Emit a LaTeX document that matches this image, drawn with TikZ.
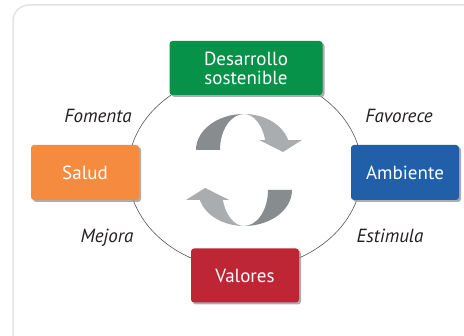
\documentclass[tikz,border=0pt]{standalone}
\usepackage{fontspec}
\setmainfont{PT Sans}
\usetikzlibrary{shadows}
\definecolor{cgreen}{HTML}{07924A}
\definecolor{corange}{HTML}{F58B3E}
\definecolor{cblue}{HTML}{2160A8}
\definecolor{cred}{HTML}{BE2636}
\definecolor{cdark}{HTML}{878C8F}
\definecolor{clight}{HTML}{A9ADAF}
\definecolor{cline}{HTML}{555555}
\definecolor{cframe}{HTML}{E3E3E3}
\definecolor{ctext}{HTML}{231F20}
\tikzset{
  box/.style={rectangle, rounded corners=3pt, text=white, align=center,
    font=\fontsize{19}{19}\selectfont, inner sep=0pt,
    drop shadow={shadow xshift=2pt, shadow yshift=-2pt, fill=black!40, opacity=0.8}},
  lbl/.style={text=ctext, font=\fontsize{19}{19}\selectfont\itshape, inner sep=0pt},
}
\begin{document}
\begin{tikzpicture}[x=1pt,y=-1pt]
\useasboundingbox (0,0) rectangle (464,336);
\fill[white] (0,0) rectangle (464,336);
\begin{scope}
\clip (0,0) rectangle (464,336);
\draw[cframe, line width=1.5pt, rounded corners=16pt] (13,5) rectangle (490,360);
\end{scope}
% ring
\coordinate (c) at (245,171);
\draw[cline, line width=0.6pt] (c) ellipse [x radius=117pt, y radius=98pt];
% boxes
\node[box, fill=cgreen, minimum width=153pt, minimum height=54pt] (des) at (246,68) {Desarrollo\\sostenible};
\node[box, fill=corange, minimum width=108pt, minimum height=55pt] (sal) at (85,172.5) {Salud};
\node[box, fill=cblue, minimum width=108pt, minimum height=55pt] (amb) at (405,172.5) {Ambiente};
\node[box, fill=cred, minimum width=108pt, minimum height=54pt] (val) at (245,275.5) {Valores};
% labels
\node[lbl, anchor=base] (fom) at (98,122.5) {Fomenta};
\node[lbl, anchor=base] (fav) at (399,122.5) {Favorece};
\node[lbl, anchor=base] (mej) at (107,243) {Mejora};
\node[lbl, anchor=base] (est) at (390,243) {Estimula};
% cycle arrows
\foreach \r in {0,180}{
\begin{scope}[rotate around={\r:(244,170)}]
\fill[cdark] (196,150) arc[start angle=180, end angle=90, x radius=48pt, y radius=36pt]
  arc[start angle=90, end angle=180, x radius=24pt, y radius=36pt] -- cycle;
\fill[clight] (244,114) arc[start angle=90, end angle=16, x radius=46pt, y radius=36pt]
  -- (302,140) -- (283,152) -- (259,140) -- (265.1,140.1)
  arc[start angle=16, end angle=90, x radius=22pt, y radius=36pt] -- cycle;
\end{scope}}
\end{tikzpicture}
\end{document}
